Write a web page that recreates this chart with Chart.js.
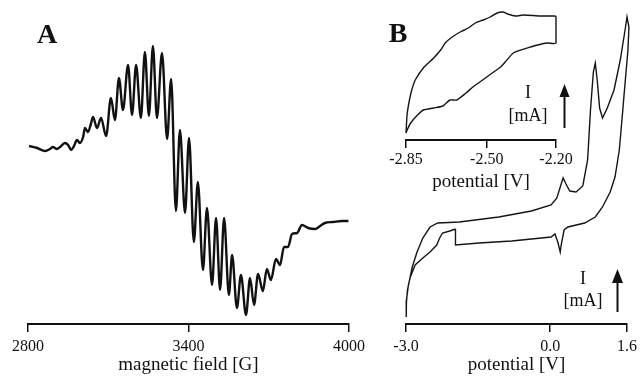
<!DOCTYPE html>
<html>
<head>
<meta charset="utf-8">
<script src="https://cdn.jsdelivr.net/npm/chart.js@4.4.1/dist/chart.umd.min.js"></script>
<style>
    body { margin: 0; background: #fff; }
    #wrap { position: relative; width: 642px; height: 376px; overflow: hidden; font-family: "Liberation Serif", serif; color: #111; }
    canvas { position: absolute; top: 0; }
    .lbl { position: absolute; transform: translate(-50%, -50%); white-space: nowrap; }
    .panel { font-weight: bold; font-size: 28px; }
    .unit { font-size: 18px; }
    svg { position: absolute; left: 0; top: 0; }
</style>
</head>
<body>
<div id="wrap">
    <canvas id="chartA" width="380" height="376" style="left:0"></canvas>
    <canvas id="chartB" width="262" height="376" style="left:380px"></canvas>
    <canvas id="chartInset" width="262" height="195" style="left:380px"></canvas>
    <div class="lbl panel" style="left:47px;top:34px">A</div>
    <div class="lbl panel" style="left:398px;top:33px">B</div>
    <div class="lbl unit" style="left:528px;top:92px">I</div>
    <div class="lbl unit" style="left:528px;top:115px">[mA]</div>
    <div class="lbl unit" style="left:583px;top:278px">I</div>
    <div class="lbl unit" style="left:583px;top:300px">[mA]</div>
    <svg width="642" height="376">
        <line x1="564.5" y1="128" x2="564.5" y2="95" stroke="#111" stroke-width="2"/>
        <polygon points="564.5,84 559.5,97 569.5,97" fill="#111"/>
        <line x1="617.5" y1="312" x2="617.5" y2="281" stroke="#111" stroke-width="2"/>
        <polygon points="617.5,269 612,283 623,283" fill="#111"/>
    </svg>
</div>
<script>
// EPR spectrum (panel A), intensity in arbitrary units
const fieldG = [2804, 2834, 2864, 2882, 2893, 2908, 2920, 2938, 2950, 2961, 2972, 2983, 2994, 3006, 3013, 3024, 3035, 3043, 3058, 3073,
    3092, 3110, 3125, 3140, 3155, 3174, 3189, 3204, 3222, 3237, 3252, 3267, 3282, 3301, 3320, 3335, 3353, 3368, 3387, 3402,
    3420, 3435, 3454, 3469, 3488, 3503, 3518, 3533, 3551, 3563, 3581, 3596, 3615, 3630, 3645, 3660, 3678, 3693, 3708, 3727,
    3742, 3757, 3772, 3787, 3806, 3824, 3847, 3873, 3892, 3910, 3940, 3974, 3998];
const eprSignal = [40, 38, 35, 37, 39, 37, 39, 43, 41, 36, 40, 46, 43, 49, 58, 54, 62, 69, 58, 68,
    50, 88, 66, 108, 76, 121, 71, 121, 68, 134, 70, 140, 68, 133, 47, 107, -25, 56, -27, 48,
    -56, 4, -84, -22, -99, -32, -104, -32, -109, -69, -122, -89, -129, -92, -119, -88, -105, -83, -94, -73,
    -79, -61, -61, -48, -47, -39, -42, -43, -40, -37, -36, -35, -35];
const fieldTicks = [2800, 3400, 4000];

// cyclic voltammogram (panel B), full scan, current in arbitrary units
const cvPotential = [-1.97, -2.09, -2.24, -2.30, -2.36, -2.50, -2.65, -2.81, -2.91, -2.95, -2.99, -3.00, -2.99, -2.97, -2.87, -2.77, -2.65, -2.50, -2.34, -1.89,
    -1.07, -0.39, 0.02, 0.14, 0.23, 0.27, 0.33, 0.41, 0.54, 0.68, 0.78, 0.84, 0.90, 0.94, 0.98, 1.03, 1.09, 1.19, 1.33, 1.46,
    1.56, 1.60, 1.64, 1.62, 1.56, 1.50, 1.44, 1.35, 1.25, 1.09, 0.94, 0.72, 0.37, 0.29, 0.23, 0.21, 0.16, 0.10, 0.02, -0.80,
    -1.48, -1.97, -1.97];
const cvCurrent = [9.5, 9.3, 9.1, 8.6, 7.9, 7.2, 6.6, 5.9, 4.7, 3.9, 2.4, 0.7, 1.9, 3.4, 5.7, 7.2, 8.6, 9.7, 10.1, 10.2,
    10.7, 11.3, 11.9, 12.6, 14.0, 14.6, 14.0, 13.3, 13.2, 13.8, 16.4, 21.4, 25.2, 26.1, 24.4, 21.6, 20.6, 21.6, 23.4, 26.4,
    29.4, 30.7, 29.7, 27.4, 24.1, 20.7, 17.4, 14.7, 13.2, 11.7, 10.7, 10.1, 9.7, 9.4, 7.9, 7.2, 8.2, 9.0, 8.7, 8.3,
    8.1, 7.9, 9.5];
const cvTicks = [-3.0, 0.0, 1.6];

// inset: cathodic region only
const insetPotential = [-2.85, -2.845, -2.835, -2.825, -2.81, -2.775, -2.73, -2.70, -2.68, -2.65, -2.615, -2.58, -2.55, -2.515, -2.485, -2.455, -2.43, -2.41, -2.375, -2.34,
    -2.27, -2.205, -2.20, -2.20, -2.24, -2.31, -2.385, -2.42, -2.44, -2.47, -2.50, -2.53, -2.56, -2.59, -2.63, -2.66, -2.69, -2.73, -2.775, -2.80,
    -2.83, -2.845, -2.85];
const insetCurrent = [0.7, 2.6, 4.0, 5.0, 6.0, 7.2, 8.2, 9.0, 9.7, 10.3, 10.8, 11.2, 11.7, 12.0, 12.3, 12.7, 12.8, 12.6, 12.4, 12.5,
    12.4, 12.4, 12.3, 9.7, 9.7, 9.3, 8.7, 7.8, 7.3, 6.8, 6.3, 5.8, 5.3, 4.7, 4.0, 4.0, 3.4, 3.2, 3.0, 2.5,
    1.7, 1.0, 0.7];
const insetTicks = [-2.85, -2.50, -2.20];

document.addEventListener("DOMContentLoaded", function () {
    const serif = "'Liberation Serif', 'Times New Roman', serif";

    // shared bottom axis: only the line, short ticks pointing down, labels and title
    function bottomAxis(min, max, tickList, digits, title, height, tickPad, titlePad) {
        return {
            type: "linear",
            min: min,
            max: max,
            afterBuildTicks: (scale) => {
                scale.ticks = tickList.map((v) => ({ value: v }));
            },
            afterFit: (scale) => {
                scale.height = height;
            },
            ticks: {
                autoSkip: false,
                maxRotation: 0,
                color: "#111",
                padding: tickPad,
                font: { family: serif, size: 16 },
                callback: (v) => Number(v).toFixed(digits),
            },
            grid: { drawOnChartArea: false, tickLength: 8, color: "#111", lineWidth: 1.5 },
            border: { color: "#111", width: 2 },
            title: {
                display: true,
                text: title,
                color: "#111",
                font: { family: serif, size: 19 },
                padding: { top: 0, bottom: titlePad },
            },
        };
    }

    function baseOptions(padding, xAxis, yMin, yMax) {
        return {
            responsive: false,
            animation: false,
            devicePixelRatio: 1,
            layout: { padding: padding },
            plugins: { legend: { display: false }, tooltip: { enabled: false } },
            scales: {
                x: xAxis,
                y: { display: false, min: yMin, max: yMax },
            },
        };
    }

    // panel A
    new Chart(document.getElementById("chartA"), {
        type: "line",
        data: {
            datasets: [{
                data: fieldG.map((g, i) => ({ x: g, y: eprSignal[i] })),
                borderColor: "#111",
                borderWidth: 2.4,
                pointRadius: 0,
                cubicInterpolationMode: "monotone",
                clip: false,
            }],
        },
        options: baseOptions({ left: 28, right: 31, top: 10, bottom: 0 },
            bottomAxis(2800, 4000, fieldTicks, 0, "magnetic field [G]", 52, 5, 0), -138, 176),
    });

    // panel B, full voltammogram
    new Chart(document.getElementById("chartB"), {
        type: "line",
        data: {
            datasets: [{
                data: cvPotential.map((p, i) => ({ x: p, y: cvCurrent[i] })),
                borderColor: "#151515",
                borderWidth: 1.4,
                pointRadius: 0,
                tension: 0,
                clip: false,
            }],
        },
        options: baseOptions({ left: 26, right: 12, top: 5, bottom: 0 },
            bottomAxis(-3.0, 1.6, cvTicks, 1, "potential [V]", 52, 5, 0), 0, 31.9),
    });

    // inset of panel B
    new Chart(document.getElementById("chartInset"), {
        type: "line",
        data: {
            datasets: [{
                data: insetPotential.map((p, i) => ({ x: p, y: insetCurrent[i] })),
                borderColor: "#151515",
                borderWidth: 1.4,
                pointRadius: 0,
                tension: 0.2,
                clip: false,
            }],
        },
        options: baseOptions({ left: 26, right: 86, top: 5, bottom: 0 },
            bottomAxis(-2.85, -2.20, insetTicks, 2, "potential [V]", 55, 2, 2), 0, 13.5),
    });
});
</script>
</body>
</html>
